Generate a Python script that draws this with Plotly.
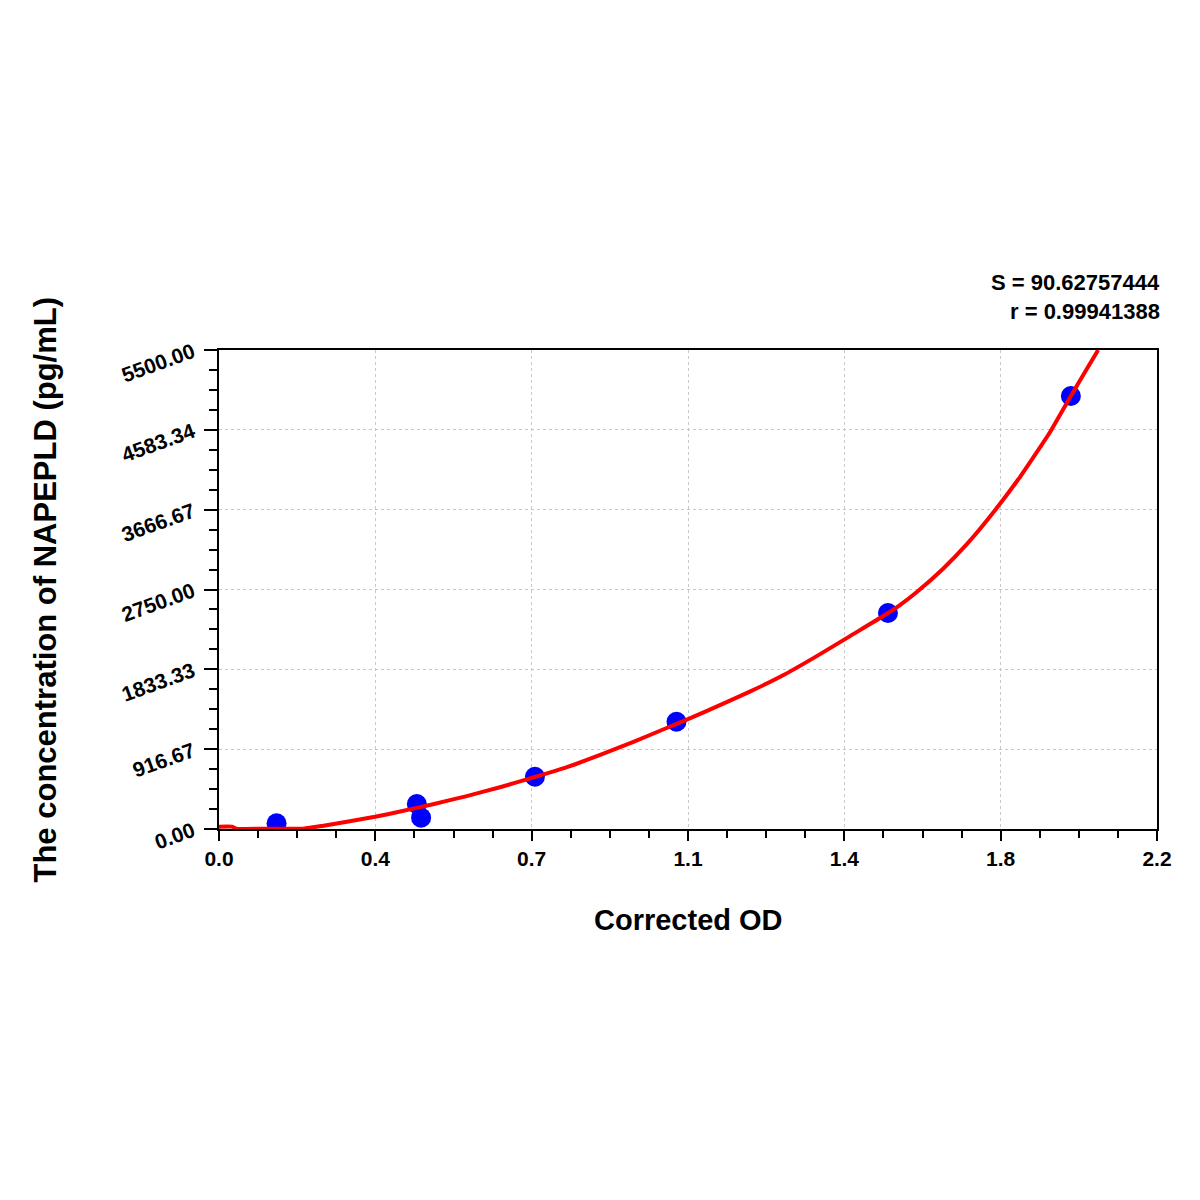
import plotly.graph_objects as go

# standard points (Corrected OD, concentration)
od_points = [0.135, 0.464, 0.474, 0.741, 1.073, 1.569, 1.998]
conc_points = [65, 287, 130, 600, 1232, 2480, 4972]

# fitted curve
curve_od = [0.0, 0.03, 0.04, 0.12, 0.198, 0.245, 0.30, 0.366, 0.425, 0.502, 0.581,
            0.659, 0.741, 0.816, 0.894, 0.972, 1.05, 1.10, 1.167, 1.245, 1.324, 1.402,
            1.480, 1.558, 1.597, 1.636, 1.699, 1.754, 1.808, 1.879, 1.926, 1.949,
            1.998, 2.035, 2.062]
curve_conc = [27, 27, 4, 4, 4, 38, 84, 140, 200, 285, 378,
              480, 597, 710, 850, 1000, 1160, 1262, 1405, 1577, 1768, 1985,
              2215, 2445, 2571, 2718, 2991, 3270, 3585, 4044, 4384, 4555,
              4972, 5279, 5500]

x_tickvals = [0, 2.2 / 6, 2 * 2.2 / 6, 3 * 2.2 / 6, 4 * 2.2 / 6, 5 * 2.2 / 6, 2.2]
x_ticktext = ['0.0', '0.4', '0.7', '1.1', '1.4', '1.8', '2.2']
y_tickvals = [0, 916.67, 1833.33, 2750, 3666.67, 4583.34, 5500]
y_ticktext = ['0.00', '916.67', '1833.33', '2750.00', '3666.67', '4583.34', '5500.00']

S_text = 'S = 90.62757444'
r_text = 'r = 0.99941388'
x_title = 'Corrected OD'
y_title = 'The concentration of NAPEPLD (pg/mL)'

font_name = 'Liberation Sans, Arial, sans-serif'

fig = go.Figure()
fig.add_trace(go.Scatter(x=od_points, y=conc_points, mode='markers',
                         marker=dict(color='#0000FF', size=20),
                         showlegend=False))
fig.add_trace(go.Scatter(x=curve_od, y=curve_conc, mode='lines',
                         line=dict(color='#FF0000', width=4, shape='spline', smoothing=0.5),
                         showlegend=False))

fig.update_xaxes(range=[0, 2.2], tickmode='array', tickvals=x_tickvals, ticktext=x_ticktext,
                 ticks='outside', ticklen=10, tickwidth=2, tickcolor='black',
                 showline=True, linewidth=2, linecolor='black', mirror=True,
                 showgrid=True, gridcolor='#c8c8c8', griddash='dot', gridwidth=1,
                 zeroline=False,
                 minor=dict(dtick=2.2 / 24, tick0=0, ticks='outside', ticklen=7,
                            tickwidth=2, tickcolor='black', showgrid=False),
                 tickfont=dict(family=font_name, size=21, color='black', weight='bold'))

fig.update_yaxes(range=[0, 5500], tickmode='array', tickvals=y_tickvals, ticktext=y_ticktext,
                 ticks='outside', ticklen=13, tickwidth=2, tickcolor='black', tickangle=-20,
                 ticklabelstandoff=7,
                 showline=True, linewidth=2, linecolor='black', mirror=True,
                 showgrid=True, gridcolor='#c8c8c8', griddash='dot', gridwidth=1,
                 zeroline=False,
                 minor=dict(dtick=5500 / 24, tick0=0, ticks='outside', ticklen=8,
                            tickwidth=2, tickcolor='black', showgrid=False),
                 tickfont=dict(family=font_name, size=21, color='black', weight='bold'))

# axis titles
fig.add_annotation(x=0.5, y=0, xref='paper', yref='paper', xanchor='center', yanchor='middle',
                   yshift=-91, text=x_title, showarrow=False,
                   font=dict(family=font_name, size=29, color='black', weight='bold'))
fig.add_annotation(x=0, y=0.5, xref='paper', yref='paper', xanchor='center', yanchor='middle',
                   xshift=-174, textangle=-90, text=y_title, showarrow=False,
                   font=dict(family=font_name, size=31, color='black', weight='bold'))

# fit statistics
fig.add_annotation(x=1, y=1, xref='paper', yref='paper', xanchor='right', yanchor='middle',
                   xshift=5, yshift=68, text=S_text, showarrow=False,
                   font=dict(family=font_name, size=22, color='black', weight='bold'))
fig.add_annotation(x=1, y=1, xref='paper', yref='paper', xanchor='right', yanchor='middle',
                   xshift=5, yshift=39, text=r_text, showarrow=False,
                   font=dict(family=font_name, size=22, color='black', weight='bold'))

fig.update_layout(width=1200, height=1200, plot_bgcolor='white', paper_bgcolor='white',
                  margin=dict(l=211, r=51, t=342, b=379))

fig.write_html("out.html")
